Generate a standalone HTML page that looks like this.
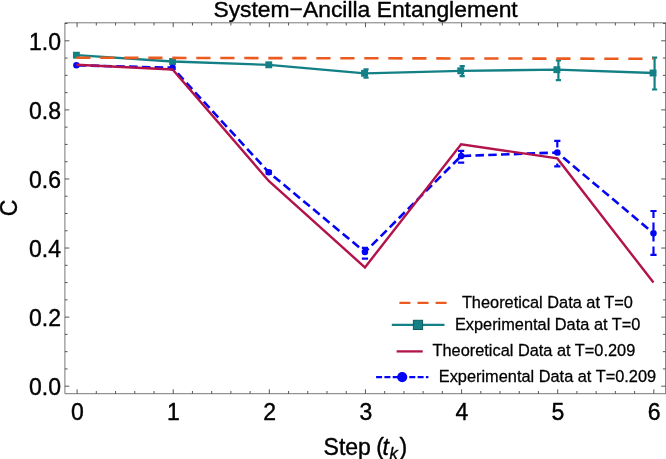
<!DOCTYPE html>
<html><head><meta charset="utf-8"><title>System-Ancilla Entanglement</title>
<style>html,body{margin:0;padding:0;background:#fff}body{width:666px;height:459px;overflow:hidden}</style></head>
<body>
<svg width="666" height="459" viewBox="0 0 666 459" style="display:block;will-change:transform">
<rect width="666" height="459" fill="#fff"/>
<g stroke="#6a6a6a" stroke-width="0.9" fill="none">
<path d="M64.9 22.8H667.6M64.9 393.7H667.6M64.9 22.8V393.7M665.6 22.8V393.7"/>
</g>
<path d="M64.9 386.20h4.4M665.6 386.20h-4.4M64.9 368.93h2.7M665.6 368.93h-2.7M64.9 351.66h2.7M665.6 351.66h-2.7M64.9 334.39h2.7M665.6 334.39h-2.7M64.9 317.12h4.4M665.6 317.12h-4.4M64.9 299.85h2.7M665.6 299.85h-2.7M64.9 282.58h2.7M665.6 282.58h-2.7M64.9 265.31h2.7M665.6 265.31h-2.7M64.9 248.04h4.4M665.6 248.04h-4.4M64.9 230.77h2.7M665.6 230.77h-2.7M64.9 213.50h2.7M665.6 213.50h-2.7M64.9 196.23h2.7M665.6 196.23h-2.7M64.9 178.96h4.4M665.6 178.96h-4.4M64.9 161.69h2.7M665.6 161.69h-2.7M64.9 144.42h2.7M665.6 144.42h-2.7M64.9 127.15h2.7M665.6 127.15h-2.7M64.9 109.88h4.4M665.6 109.88h-4.4M64.9 92.61h2.7M665.6 92.61h-2.7M64.9 75.34h2.7M665.6 75.34h-2.7M64.9 58.07h2.7M665.6 58.07h-2.7M64.9 40.80h4.4M665.6 40.80h-4.4M64.9 23.53h2.7M665.6 23.53h-2.7M77.10 393.7v-4.4M77.10 22.8v4.4M96.32 393.7v-2.7M96.32 22.8v2.7M115.55 393.7v-2.7M115.55 22.8v2.7M134.77 393.7v-2.7M134.77 22.8v2.7M154.00 393.7v-2.7M154.00 22.8v2.7M173.22 393.7v-4.4M173.22 22.8v4.4M192.44 393.7v-2.7M192.44 22.8v2.7M211.67 393.7v-2.7M211.67 22.8v2.7M230.89 393.7v-2.7M230.89 22.8v2.7M250.12 393.7v-2.7M250.12 22.8v2.7M269.34 393.7v-4.4M269.34 22.8v4.4M288.56 393.7v-2.7M288.56 22.8v2.7M307.79 393.7v-2.7M307.79 22.8v2.7M327.01 393.7v-2.7M327.01 22.8v2.7M346.24 393.7v-2.7M346.24 22.8v2.7M365.46 393.7v-4.4M365.46 22.8v4.4M384.68 393.7v-2.7M384.68 22.8v2.7M403.91 393.7v-2.7M403.91 22.8v2.7M423.13 393.7v-2.7M423.13 22.8v2.7M442.36 393.7v-2.7M442.36 22.8v2.7M461.58 393.7v-4.4M461.58 22.8v4.4M480.80 393.7v-2.7M480.80 22.8v2.7M500.03 393.7v-2.7M500.03 22.8v2.7M519.25 393.7v-2.7M519.25 22.8v2.7M538.48 393.7v-2.7M538.48 22.8v2.7M557.70 393.7v-4.4M557.70 22.8v4.4M576.92 393.7v-2.7M576.92 22.8v2.7M596.15 393.7v-2.7M596.15 22.8v2.7M615.37 393.7v-2.7M615.37 22.8v2.7M634.60 393.7v-2.7M634.60 22.8v2.7M653.82 393.7v-4.4M653.82 22.8v4.4" stroke="#444" stroke-width="0.9" fill="none"/>
<polyline points="76.40,55.20 172.58,61.50 268.76,64.80 364.94,73.30 461.12,70.80 557.30,69.70 653.48,73.00" fill="none" stroke="#138086" stroke-width="2.3" stroke-linejoin="round"/>
<rect x="72.95" y="51.75" width="6.9" height="6.9" fill="#138086"/>
<rect x="169.13" y="58.05" width="6.9" height="6.9" fill="#138086"/>
<rect x="265.31" y="61.35" width="6.9" height="6.9" fill="#138086"/>
<path d="M366.04 69.40V77.70M363.44 69.40h5.2M363.44 77.70h5.2" stroke="#138086" stroke-width="2.2" fill="none"/>
<rect x="361.09" y="69.85" width="6.9" height="6.9" fill="#138086"/>
<path d="M462.22 66.10V76.10M459.62 66.10h5.2M459.62 76.10h5.2" stroke="#138086" stroke-width="2.2" fill="none"/>
<rect x="457.27" y="67.35" width="6.9" height="6.9" fill="#138086"/>
<path d="M558.40 60.50V80.10M555.80 60.50h5.2M555.80 80.10h5.2" stroke="#138086" stroke-width="2.2" fill="none"/>
<rect x="553.45" y="66.25" width="6.9" height="6.9" fill="#138086"/>
<path d="M654.58 57.70V89.50M651.98 57.70h5.2M651.98 89.50h5.2" stroke="#138086" stroke-width="2.2" fill="none"/>
<rect x="649.63" y="69.55" width="6.9" height="6.9" fill="#138086"/>
<path d="M76.3 57.75L653.5 58.8" fill="none" stroke="#eb5a1e" stroke-width="2.6" stroke-dasharray="14.2 9.8"/>
<polyline points="76.40,65.30 172.58,67.80 268.76,172.30 364.94,252.10 461.12,156.00 557.30,152.50 653.48,233.30" fill="none" stroke="#0505f5" stroke-width="2.6" stroke-dasharray="8.5 4.3" stroke-dashoffset="-1.5" stroke-linejoin="round"/>
<circle cx="76.40" cy="65.30" r="3.25" fill="#0505f5"/>
<circle cx="172.58" cy="67.80" r="3.25" fill="#0505f5"/>
<path d="M268.76 171.00V173.60M265.66 171.00h6.2M265.66 173.60h6.2" stroke="#0505f5" stroke-width="2.2" fill="none"/>
<circle cx="268.76" cy="172.30" r="3.25" fill="#0505f5"/>
<path d="M364.94 247.80V254.50M361.84 247.80h6.2M361.84 258.70h6.2" stroke="#0505f5" stroke-width="2.2" fill="none"/>
<circle cx="364.94" cy="252.10" r="3.25" fill="#0505f5"/>
<path d="M461.12 150.80V157.50M461.12 161.80V162.60M458.02 150.80h6.2M458.02 162.60h6.2" stroke="#0505f5" stroke-width="2.2" fill="none"/>
<circle cx="461.12" cy="156.00" r="3.25" fill="#0505f5"/>
<path d="M557.30 140.80V147.50M557.30 163.60V166.40M554.20 140.80h6.2M554.20 166.40h6.2" stroke="#0505f5" stroke-width="2.2" fill="none"/>
<circle cx="557.30" cy="152.50" r="3.25" fill="#0505f5"/>
<path d="M653.48 211.00V218.00M653.48 222.40V230.00M653.48 236.00V241.60M653.48 246.60V254.90M650.38 211.00h6.2M650.38 254.90h6.2" stroke="#0505f5" stroke-width="2.2" fill="none"/>
<circle cx="653.48" cy="233.30" r="3.25" fill="#0505f5"/>
<polyline points="76.40,64.70 172.58,69.50 268.76,181.00 364.94,267.40 461.12,144.20 557.30,158.40 653.48,282.60" fill="none" stroke="#b3134b" stroke-width="2.4" stroke-linejoin="miter"/>
<g font-family="Liberation Sans, Arial, Helvetica, sans-serif" fill="#000" stroke="#000" stroke-width="0.4" stroke-linejoin="round">
<text x="213.4" y="16.7" font-size="22.87">System−Ancilla Entanglement</text>
<text x="61" y="394.8" font-size="23" text-anchor="end">0.0</text>
<text x="61" y="325.8" font-size="23" text-anchor="end">0.2</text>
<text x="61" y="256.9" font-size="23" text-anchor="end">0.4</text>
<text x="61" y="187.9" font-size="23" text-anchor="end">0.6</text>
<text x="61" y="119.0" font-size="23" text-anchor="end">0.8</text>
<text x="61" y="50.0" font-size="23" text-anchor="end">1.0</text>
<text x="77.4" y="419.9" font-size="23" text-anchor="middle">0</text>
<text x="173.5" y="419.9" font-size="23" text-anchor="middle">1</text>
<text x="269.6" y="419.9" font-size="23" text-anchor="middle">2</text>
<text x="365.8" y="419.9" font-size="23" text-anchor="middle">3</text>
<text x="461.9" y="419.9" font-size="23" text-anchor="middle">4</text>
<text x="558.0" y="419.9" font-size="23" text-anchor="middle">5</text>
<text x="654.1" y="419.9" font-size="23" text-anchor="middle">6</text>
<text transform="translate(17 208) rotate(-90)" font-size="23" text-anchor="middle">C</text>
<text x="323.6" y="454.7" font-size="23">Step <tspan dx="-1">(</tspan><tspan font-style="italic" dx="-1.4">t</tspan><tspan font-style="italic" font-size="16.5" dy="4.6" dx="0.6">k</tspan><tspan dy="-4.6" dx="1.6">)</tspan></text>
<text x="461.9" y="308" font-size="16.35" stroke-width="0.28">Theoretical Data at T=0</text>
<text x="454.9" y="330.2" font-size="16.35" stroke-width="0.28">Experimental Data at T=0</text>
<text x="432.5" y="356" font-size="16.35" stroke-width="0.28">Theoretical Data at T=0.209</text>
<text x="438.8" y="382" font-size="16.35" stroke-width="0.28">Experimental Data at T=0.209</text>
</g>
<path d="M399.4 302.9H447" stroke="#eb5a1e" stroke-width="2.3" stroke-dasharray="11 7.1" fill="none"/>
<path d="M391.8 324.9H444.5" stroke="#138086" stroke-width="2.3" fill="none"/><rect x="413.4" y="320.3" width="9.2" height="9.2" fill="#138086" stroke="#0d5a5f" stroke-width="1"/>
<path d="M396.6 351.4H422.7" stroke="#b3134b" stroke-width="2.3" fill="none"/>
<path d="M376.1 377.1H428.4" stroke="#0505f5" stroke-width="2.4" stroke-dasharray="6 2.3" fill="none"/><circle cx="402.2" cy="377.1" r="5.1" fill="#0505f5"/>
</svg>
</body></html>
